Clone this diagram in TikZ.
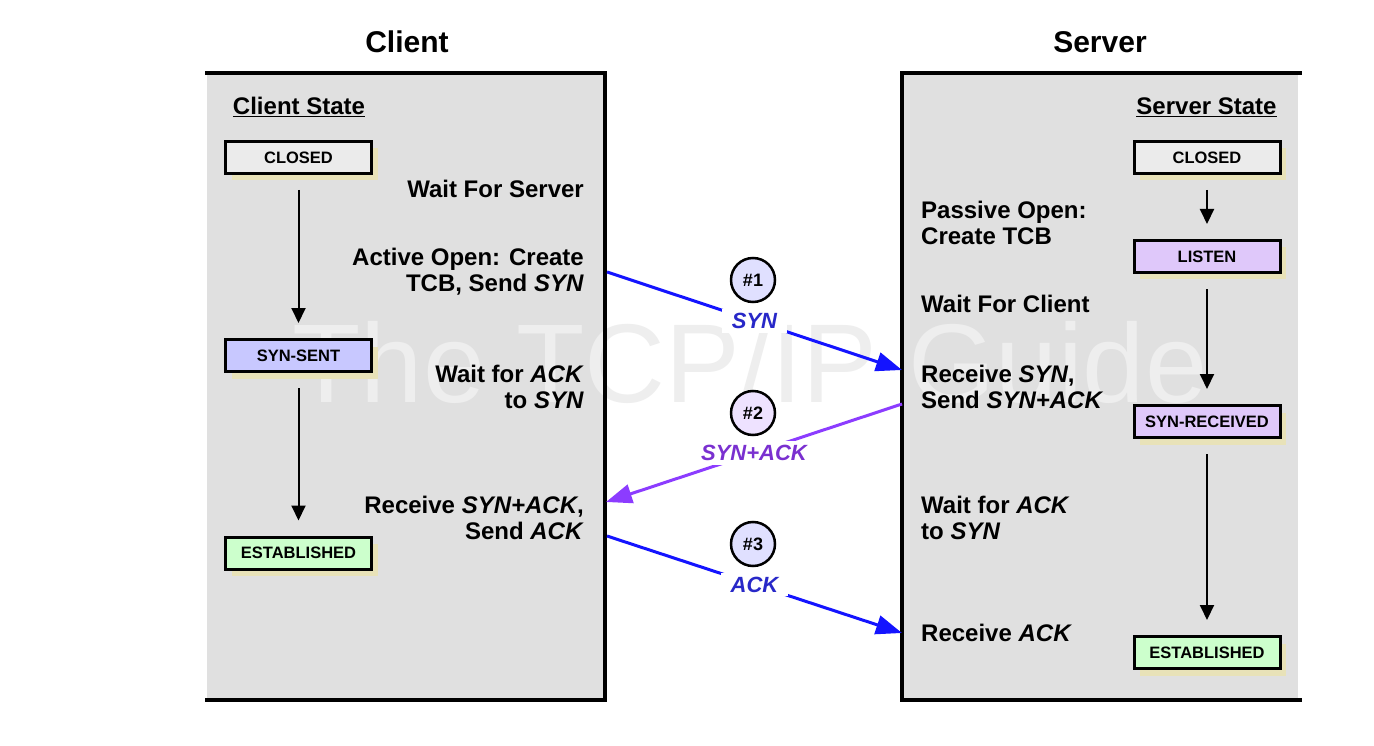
\documentclass[tikz,border=0pt]{standalone}
\usepackage{fontspec}
\setmainfont{Liberation Sans}
\usetikzlibrary{arrows.meta,shadows}
\definecolor{panel}{HTML}{E0E0E0}
\definecolor{shadowc}{HTML}{E8E2B8}
\definecolor{closedc}{HTML}{EBEBEB}
\definecolor{sentc}{HTML}{C8C8FF}
\definecolor{listenc}{HTML}{DFC8FA}
\definecolor{estc}{HTML}{CCFFCC}
\definecolor{msgblue}{HTML}{1414FF}
\definecolor{msgpurple}{HTML}{8C3CFF}
\definecolor{lblblue}{HTML}{2828C8}
\definecolor{lblpurple}{HTML}{7A30D0}
\definecolor{circblue}{HTML}{E0E0FF}
\definecolor{circpurple}{HTML}{EEE2FF}
\definecolor{wm}{HTML}{EEEEEE}
\begin{document}
\begin{tikzpicture}[x=1pt,y=-1pt,
  head/.style={font=\bfseries\fontsize{30}{34}\selectfont, inner sep=0pt},
  body/.style={font=\bfseries\fontsize{24}{26}\selectfont, inner sep=0pt},
  statehead/.style={font=\bfseries\fontsize{24}{26}\selectfont, inner sep=0pt},
  statebox/.style={draw=black, line width=3pt, minimum width=146pt, minimum height=32pt,
    inner sep=0pt, font=\bfseries\fontsize{16.5}{18}\selectfont,
    general shadow={fill=shadowc, shadow xshift=6pt, shadow yshift=-7pt}},
  statearrow/.style={line width=2pt, -{Triangle[length=15pt,width=14pt]}, shorten <=15pt, shorten >=15pt},
  msg/.style={line width=3pt, -{Triangle[length=26pt,width=19pt]}},
  msglabel/.style={fill=white, inner xsep=10pt, inner ysep=4pt,
    font=\bfseries\itshape\fontsize{22}{24}\selectfont},
  num/.style={circle, draw=black, line width=2.5pt, minimum size=44pt, inner sep=0pt,
    font=\bfseries\fontsize{18}{20}\selectfont},
  border/.style={line width=3.5pt, line cap=rect}]
\useasboundingbox (0,0) rectangle (1374,746);
\fill[white] (0,0) rectangle (1374,746);
% panels
\fill[panel] (207,73) rectangle (605,700);
\fill[panel] (902,73) rectangle (1298,700);
% watermark
\node[text=wm, inner sep=0pt, font=\fontsize{112}{112}\selectfont] (wmark) at (750,362) {The TCP/IP Guide};
% borders
\draw[border] (207,73) -- (605,73) -- (605,700) -- (207,700);
\draw[border] (1300,73) -- (902,73) -- (902,700) -- (1300,700);
% headings
\node[head] (client) at (407,42) {Client};
\node[head] (server) at (1100,42) {Server};
\node[statehead] (cstate) at (299,107) {\underline{Client State}};
\node[statehead] (sstate) at (1206.5,107) {\underline{Server State}};
% client states
\node[statebox, fill=closedc] (cclosed) at (298.5,157.5) {CLOSED};
\node[statebox, fill=sentc] (csent) at (298.5,355.5) {SYN-SENT};
\node[statebox, fill=estc] (cest) at (298.5,553) {ESTABLISHED};
\draw[statearrow] (cclosed) -- (csent);
\draw[statearrow] (csent) -- (cest);
% server states
\node[statebox, fill=closedc] (sclosed) at (1207,157.5) {CLOSED};
\node[statebox, fill=listenc] (slisten) at (1207,256.5) {LISTEN};
\node[statebox, fill=listenc] (srcvd) at (1207,421.5) {SYN-RECEIVED};
\node[statebox, fill=estc] (sest) at (1207,652.5) {ESTABLISHED};
\draw[statearrow] (sclosed) -- (slisten);
\draw[statearrow] (slisten) -- (srcvd);
\draw[statearrow] (srcvd) -- (sest);
% client texts
\node[body, anchor=east, align=right] (t1) at (584,189) {Wait For Server};
\node[body, anchor=east, align=right] (t2) at (584,272) {Active Open: Create\\TCB, Send \textit{SYN}};
\node[body, anchor=east, align=right] (t3) at (584,387) {Wait for \textit{ACK}\\to \textit{SYN}};
\node[body, anchor=east, align=right] (t4) at (584,518) {Receive \textit{SYN+ACK},\\Send \textit{ACK}};
% server texts
\node[body, anchor=west, align=left] (u1) at (921,223) {Passive Open:\\Create TCB};
\node[body, anchor=west, align=left] (u2) at (921,304) {Wait For Client};
\node[body, anchor=west, align=left] (u3) at (921,387) {Receive \textit{SYN},\\Send \textit{SYN+ACK}};
\node[body, anchor=west, align=left] (u4) at (921,518) {Wait for \textit{ACK}\\to \textit{SYN}};
\node[body, anchor=west, align=left] (u5) at (921,633) {Receive \textit{ACK}};
% message endpoints
\coordinate (c1) at (607,272);
\coordinate (s1) at (902,370);
\coordinate (s2) at (902,404);
\coordinate (c2) at (606,502);
\coordinate (c3) at (607,536);
\coordinate (s3) at (902,633);
% messages
\draw[msg, msgblue] (c1) -- node[msglabel, text=lblblue] (l1) {SYN} (s1);
\draw[msg, msgpurple] (s2) -- node[msglabel, text=lblpurple] (l2) {SYN+ACK} (c2);
\draw[msg, msgblue] (c3) -- node[msglabel, text=lblblue] (l3) {ACK} (s3);
\node[num, fill=circblue] (n1) at (753,280) {\#1};
\node[num, fill=circpurple] (n2) at (753,413) {\#2};
\node[num, fill=circblue] (n3) at (753,544) {\#3};
\end{tikzpicture}
\end{document}
